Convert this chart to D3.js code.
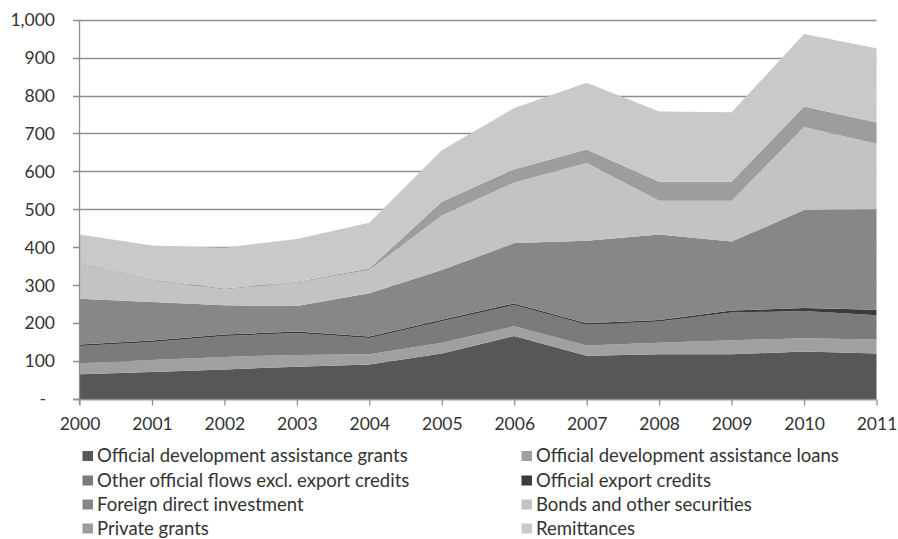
<!DOCTYPE html>
<html>
<head>
<meta charset="utf-8">
<script src="https://cdn.jsdelivr.net/npm/d3@7"></script>
<style>
  html, body { margin: 0; padding: 0; background: #ffffff; }
  svg { display: block; }
  text { font-family: Lato, "Open Sans", sans-serif; fill: #333333; }
</style>
</head>
<body>
<svg id="chart" width="898" height="539"></svg>
<script>
// Financial flows by year, stacked bottom to top
const years = [2000, 2001, 2002, 2003, 2004, 2005, 2006, 2007, 2008, 2009, 2010, 2011];
const odaGrants     = [65, 71, 78, 85, 91, 120, 166, 114, 118, 118, 125, 120];
const odaLoans      = [29, 32, 33, 31, 27, 28, 26, 27, 30, 37, 35, 37];
const otherOfficial = [46, 47, 55, 58, 43, 57, 56, 55, 56, 73, 72, 64];
const exportCredits = [4, 4, 4, 4, 4, 4, 4, 4, 4, 5, 8, 14];
const fdi           = [120, 102, 77, 67, 114, 131, 159, 217, 226, 182, 258, 265];
const bonds         = [93, 58, 42, 62, 61, 144, 160, 205, 89, 108, 219, 173];
const privateGrants = [2, 2, 2, 2, 4, 36, 35, 36, 50, 50, 54, 56];
const remittances   = [75, 89, 108, 113, 121, 136, 161, 176, 185, 183, 191, 196];

const seriesNames = [
  "Official development assistance grants",
  "Official development assistance loans",
  "Other official flows excl. export credits",
  "Official export credits",
  "Foreign direct investment",
  "Bonds and other securities",
  "Private grants",
  "Remittances"
];
const seriesValues = [odaGrants, odaLoans, otherOfficial, exportCredits, fdi, bonds, privateGrants, remittances];
const seriesColors = ["#575757", "#a0a0a0", "#7b7b7b", "#3b3b3b", "#878787", "#c3c3c3", "#9d9d9d", "#c9c9c9"];

const yTicks = [0, 100, 200, 300, 400, 500, 600, 700, 800, 900, 1000];

const svg = d3.select("#chart");
const x = d3.scalePoint().domain(years).range([79.5, 876.5]);
const y = d3.scaleLinear().domain([0, 1000]).range([399, 19.7]);

// rows for the stack
const keys = seriesNames;
const rows = years.map((yr, i) => {
  const r = { year: yr };
  keys.forEach((k, j) => { r[k] = seriesValues[j][i]; });
  return r;
});
const stacked = d3.stack().keys(keys)(rows);

// horizontal gridlines (with the short left ticks)
svg.append("g").selectAll("line").data(yTicks).join("line")
  .attr("x1", 73).attr("x2", 876.5)
  .attr("y1", d => Math.round(y(d)) + 0.5).attr("y2", d => Math.round(y(d)) + 0.5)
  .attr("stroke", "#8e8e8e").attr("stroke-width", 1.3);

// stacked areas
const area = d3.area()
  .x(d => x(d.data.year))
  .y0(d => y(d[0]))
  .y1(d => y(d[1]));
svg.append("g").selectAll("path").data(stacked).join("path")
  .attr("d", area)
  .attr("fill", (d, i) => seriesColors[i]);

// y axis line
svg.append("line")
  .attr("x1", 79.5).attr("x2", 79.5)
  .attr("y1", y(1000)).attr("y2", y(0) + 6)
  .attr("stroke", "#8e8e8e").attr("stroke-width", 1.3);

// x axis with downward ticks
const xAxis = d3.axisBottom(x).tickSize(6).tickPadding(12).tickSizeOuter(0);
const gx = svg.append("g").attr("transform", `translate(0,${Math.round(y(0)) + 0.5})`).call(xAxis);
gx.select(".domain").attr("stroke", "#8e8e8e").attr("stroke-width", 1.3).attr("d", "M73,0H876.5");
gx.selectAll(".tick line").attr("stroke", "#8e8e8e").attr("stroke-width", 1.3);
gx.selectAll(".tick text")
  .style("font-family", "Lato, 'Open Sans', sans-serif")
  .style("font-size", "17.5px").attr("fill", "#333333");

// y axis labels
const fmt = d3.format(",");
svg.append("g").selectAll("text").data(yTicks).join("text")
  .attr("x", d => d === 0 ? 46 : 55)
  .attr("y", d => y(d) + 6.3)
  .attr("text-anchor", "end")
  .style("font-size", "17.5px")
  .text(d => d === 0 ? "-" : fmt(d));

// legend: two columns, four rows
const legendCols = [82.5, 521.5];
const legendRows = [456, 480.5, 504.5, 528.5];
const lg = svg.append("g").selectAll("g").data(seriesNames).join("g")
  .attr("transform", (d, i) => `translate(${legendCols[i % 2]},${legendRows[Math.floor(i / 2)]})`);
lg.append("rect")
  .attr("x", 0).attr("y", -5).attr("width", 10.5).attr("height", 10)
  .attr("fill", (d, i) => seriesColors[i]);
lg.append("text")
  .attr("x", 14.5).attr("y", 6.2)
  .style("font-size", "18.5px")
  .text(d => d);
</script>
</body>
</html>
